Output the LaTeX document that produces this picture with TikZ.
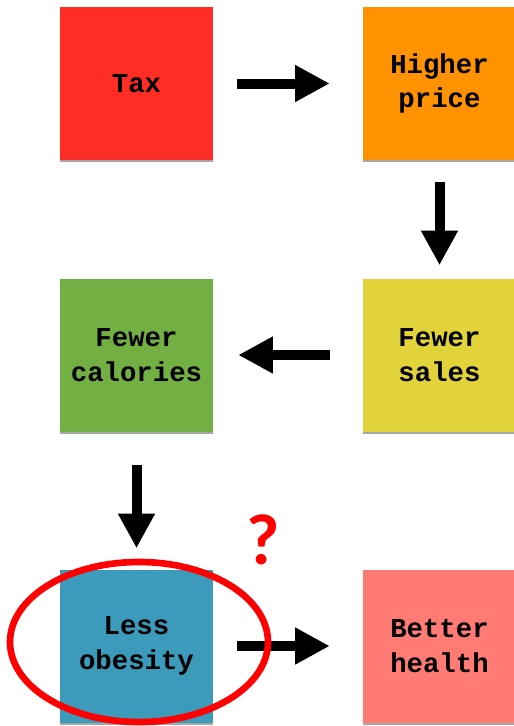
\documentclass[tikz,border=0pt]{standalone}
\usepackage{fontspec}
\usepackage{xcolor}
\usepackage{tikz}
\usetikzlibrary{arrows.meta,shadows}
\newfontfamily\notefont{Liberation Mono}
\newfontfamily\markfont{Carlito}

\definecolor{taxred}{HTML}{FF2D24}
\definecolor{priceorange}{HTML}{FF9200}
\definecolor{salesyellow}{HTML}{E2D33A}
\definecolor{calgreen}{HTML}{72B043}
\definecolor{obeseblue}{HTML}{3C9BBB}
\definecolor{healthpink}{HTML}{FF7B74}

\begin{document}
\begin{tikzpicture}[
  x=0.75pt, y=-0.75pt,
  card/.style={minimum width=114.75pt, minimum height=114.75pt, inner sep=0pt, align=center,
    font=\notefont\bfseries\fontsize{20.5}{26}\selectfont,
    drop shadow={shadow xshift=0pt, shadow yshift=-1.5pt, opacity=0.35, fill=black}},
  arrow/.style={-{Triangle[length=26pt, width=26pt]}, line width=7.5pt}
]
\useasboundingbox (0,0) rectangle (514,726);

\node[card, fill=taxred] (tax) at (136.5, 83.5) {Tax};
\node[card, fill=priceorange] (price) at (439.5, 83.5) {Higher\\price};
\node[card, fill=salesyellow] (sales) at (439.5, 355) {Fewer\\sales};
\node[card, fill=calgreen] (cal) at (136.5, 355) {Fewer\\calories};
\node[card, fill=obeseblue] (obese) at (136.5, 646) {Less\\obesity};
\node[card, fill=healthpink] (health) at (439.5, 646) {Better\\health};

\draw[arrow, shorten <=18pt, shorten >=24.75pt] (tax.east) -- (price.west);
\draw[arrow, shorten <=16.5pt, shorten >=9.75pt] (price.south) -- (sales.north);
\draw[arrow, shorten <=24.75pt, shorten >=18.75pt] (sales.west) -- (cal.east);
\draw[arrow, shorten <=24.75pt, shorten >=15.75pt] (cal.south) -- (obese.north);
\draw[arrow, shorten <=18pt, shorten >=24.75pt] (obese.east) -- (health.west);

% the doubtful link
\draw[red, line width=5pt] (139, 642) ellipse [x radius=129, y radius=80];
\node[text=red, font=\markfont\bfseries\fontsize{54}{54}\selectfont] (doubt) at (263, 540) {?};
\end{tikzpicture}
\end{document}
